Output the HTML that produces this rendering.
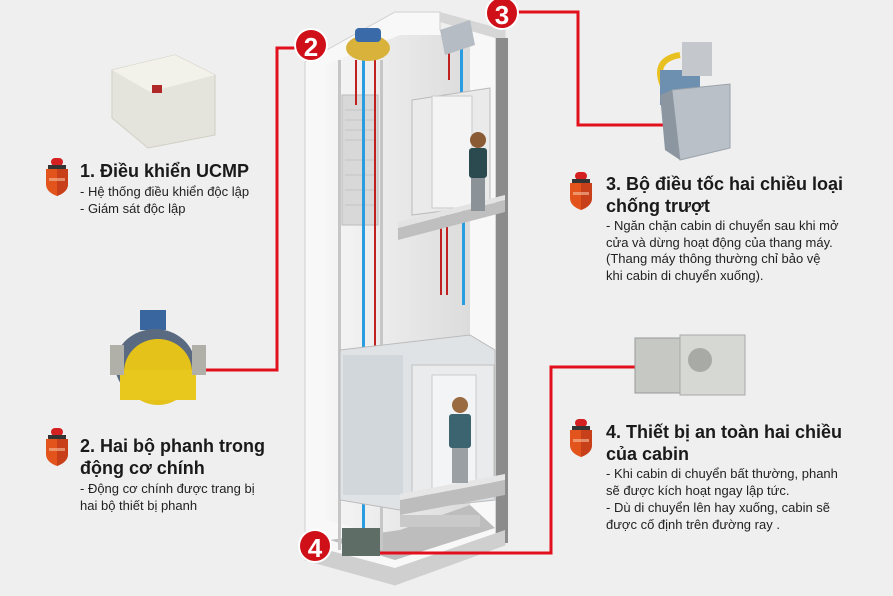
<!DOCTYPE html>
<html><head><meta charset="utf-8">
<style>
html,body{margin:0;padding:0;background:#efefef;}
#c{position:relative;width:893px;height:596px;overflow:hidden;background:#efefef;font-family:"Liberation Sans",Arial,sans-serif;color:#222;}
.t{position:absolute;white-space:nowrap;}
.h{font-size:18px;font-weight:bold;color:#1a1a1a;line-height:22px;}
.b{font-size:13px;color:#222;line-height:17px;}
</style></head><body><div id="c">
<svg width="893" height="596" style="position:absolute;left:0;top:0">
<defs>
<linearGradient id="g1" x1="0" x2="1"><stop offset="0" stop-color="#f6f6f6"/><stop offset="1" stop-color="#dcdcdc"/></linearGradient>
<g id="shield">
 <rect x="5" y="0" width="12" height="8" rx="4" fill="#d42020"/>
 <rect x="2" y="7" width="18" height="4" fill="#333"/>
 <path d="M0 11 H22 V26 Q22 34 11 38 Q0 34 0 26 Z" fill="#e2541c"/>
 <path d="M11 11 H22 V26 Q22 34 11 38 Z" fill="#c8401a"/>
 <rect x="3" y="20" width="16" height="3" fill="#f6c0a0" opacity=".6"/>
</g>
</defs>
<!-- shaft -->
<polygon points="305,62 395,12 440,12 440,30 505,30 505,545 395,585 305,560" fill="#f8f8f8" stroke="#d0d0d0"/>
<polygon points="325,65 400,35 470,35 470,505 400,540 325,520" fill="url(#g1)"/>
<polygon points="440,12 505,30 505,545 495,545 495,38 440,22" fill="#d6d6d6"/>
<rect x="496" y="38" width="12" height="505" fill="#8c8c8c"/>
<polygon points="305,560 395,585 505,545 505,530 395,568 320,548" fill="#cfcfcf"/>
<polygon points="330,540 395,560 495,528 470,505 400,530" fill="#bdbdbd"/>
<!-- rails -->
<rect x="338" y="60" width="3" height="490" fill="#c6c6c6"/>
<rect x="380" y="60" width="3" height="490" fill="#c6c6c6"/>
<rect x="342" y="95" width="36" height="130" fill="#d8d8d8" stroke="#bbb"/>
<g stroke="#c4c4c4" stroke-width="1">
<line x1="345" y1="110" x2="375" y2="110"/><line x1="345" y1="120" x2="375" y2="120"/><line x1="345" y1="130" x2="375" y2="130"/><line x1="345" y1="140" x2="375" y2="140"/><line x1="345" y1="160" x2="375" y2="160"/><line x1="345" y1="175" x2="375" y2="175"/><line x1="345" y1="190" x2="375" y2="190"/><line x1="345" y1="205" x2="375" y2="205"/>
</g>
<!-- ropes -->
<rect x="362" y="55" width="3" height="490" fill="#2a9de0"/>
<rect x="460" y="40" width="3" height="160" fill="#2a9de0"/>
<rect x="462" y="210" width="3" height="95" fill="#2a9de0"/>
<rect x="355" y="60" width="2" height="45" fill="#c02020"/>
<rect x="374" y="60" width="2" height="320" fill="#c02020"/>
<rect x="448" y="40" width="2" height="40" fill="#c02020"/>
<rect x="440" y="215" width="2" height="80" fill="#c02020"/>
<rect x="446" y="215" width="2" height="80" fill="#c02020"/>
<!-- upper floor door/platform -->
<polygon points="412,100 490,88 490,205 412,215" fill="#eaeaea" stroke="#bbb"/>
<rect x="432" y="96" width="40" height="112" fill="#f4f4f4" stroke="#c9c9c9"/>
<polygon points="398,228 505,200 505,212 398,240" fill="#bfbfbf"/>
<polygon points="398,228 505,200 505,195 398,222" fill="#e3e3e3"/>
<!-- man 1 -->
<circle cx="478" cy="140" r="8" fill="#8a5a34"/>
<rect x="469" y="148" width="18" height="30" rx="3" fill="#2a4a50"/>
<rect x="471" y="178" width="14" height="33" fill="#8c9398"/>
<!-- cabin -->
<polygon points="340,350 470,335 495,350 495,500 400,510 340,500" fill="#dfe3e6" stroke="#bbb"/>
<rect x="343" y="355" width="60" height="140" fill="#d2d7dc"/>
<rect x="412" y="365" width="82" height="130" fill="#e9ebed" stroke="#c0c0c0"/>
<rect x="432" y="375" width="44" height="120" fill="#f3f4f5" stroke="#ccc"/>
<polygon points="400,500 505,480 505,495 400,515" fill="#bdbdbd"/>
<polygon points="400,500 505,480 505,474 400,494" fill="#e6e6e6"/>
<rect x="400" y="515" width="80" height="12" fill="#c9c9c9"/>
<!-- man 2 -->
<circle cx="460" cy="405" r="8" fill="#9a6a40"/>
<rect x="449" y="414" width="22" height="34" rx="3" fill="#3c6470"/>
<rect x="452" y="448" width="16" height="35" fill="#9aa0a4"/>
<!-- motor top -->
<ellipse cx="368" cy="48" rx="22" ry="13" fill="#d8b23a"/>
<rect x="355" y="28" width="26" height="14" rx="4" fill="#3a6aa8"/>
<!-- governor top -->
<polygon points="440,30 470,20 475,45 445,55" fill="#b5bcc4"/>
<!-- safety device bottom -->
<rect x="342" y="528" width="38" height="28" fill="#5e6e66"/>
<!-- red connectors -->
<g fill="none" stroke="#e2101c" stroke-width="3">
<polyline points="300,48 277,48 277,370 190,370"/>
<polyline points="505,12 578,12 578,125 676,125"/>
<polyline points="380,553 551,553 551,367 642,367"/>
</g>
<!-- badges -->
<g font-family="Liberation Sans,Arial,sans-serif" font-weight="bold" fill="#fff" text-anchor="middle">
<circle cx="311" cy="45" r="16" fill="#d01018" stroke="#fff" stroke-width="2"/><text x="311" y="56" font-size="26">2</text>
<circle cx="502" cy="13" r="16" fill="#d01018" stroke="#fff" stroke-width="2"/><text x="502" y="24" font-size="26">3</text>
<circle cx="315" cy="546" r="16" fill="#d01018" stroke="#fff" stroke-width="2"/><text x="315" y="557" font-size="26">4</text>
</g>
<!-- controller -->
<polygon points="112,70 175,55 215,75 215,135 148,148 112,118" fill="#e4e4dc" stroke="#cfcfc4"/>
<polygon points="112,70 175,55 215,75 150,92" fill="#f2f2ea"/>
<rect x="152" y="85" width="10" height="8" fill="#b02828"/>
<!-- motor -->
<rect x="140" y="310" width="26" height="20" fill="#3a66a0"/>
<ellipse cx="155" cy="365" rx="40" ry="36" fill="#5a6a80"/>
<ellipse cx="158" cy="372" rx="34" ry="33" fill="#e5c21a"/>
<rect x="120" y="370" width="76" height="30" fill="#e9c81e"/>
<rect x="110" y="345" width="14" height="30" fill="#b0b0a8"/>
<rect x="192" y="345" width="14" height="30" fill="#b0b0a8"/>
<!-- governor -->
<path d="M665 90 Q650 60 680 55" stroke="#e8c020" stroke-width="6" fill="none"/>
<rect x="660" y="70" width="40" height="35" fill="#6d8fb0"/>
<rect x="682" y="42" width="30" height="34" fill="#c4c8cc"/>
<polygon points="672,90 730,84 730,148 680,160" fill="#b9c0c8" stroke="#9aa2aa"/>
<polygon points="660,95 672,90 680,160 665,150" fill="#8c96a0"/>
<!-- safety gear -->
<rect x="635" y="338" width="45" height="55" fill="#c6c8c4" stroke="#999"/>
<rect x="680" y="335" width="65" height="60" fill="#d6d8d4" stroke="#aaa"/>
<circle cx="700" cy="360" r="12" fill="#a8aaa6"/>
<!-- shields -->
<use href="#shield" x="46" y="158"/>
<use href="#shield" x="46" y="428"/>
<use href="#shield" x="570" y="172"/>
<use href="#shield" x="570" y="419"/>
</svg>
<div class="t h" style="left:80px;top:160px">1. Điều khiển UCMP</div>
<div class="t b" style="left:80px;top:183px">- Hệ thống điều khiển độc lập<br>- Giám sát độc lập</div>
<div class="t h" style="left:80px;top:435px">2. Hai bộ phanh trong<br>động cơ chính</div>
<div class="t b" style="left:80px;top:480px">- Động cơ chính được trang bị<br>hai bộ thiết bị phanh</div>
<div class="t h" style="left:606px;top:173px">3. Bộ điều tốc hai chiều loại<br>chống trượt</div>
<div class="t b" style="left:606px;top:218px;line-height:16.7px">- Ngăn chặn cabin di chuyển sau khi mở<br>cửa và dừng hoạt động của thang máy.<br>(Thang máy thông thường chỉ bảo vệ<br>khi cabin di chuyển xuống).</div>
<div class="t h" style="left:606px;top:421px">4. Thiết bị an toàn hai chiều<br>của cabin</div>
<div class="t b" style="left:606px;top:465px">- Khi cabin di chuyển bất thường, phanh<br>sẽ được kích hoạt ngay lập tức.<br>- Dù di chuyển lên hay xuống, cabin sẽ<br>được cố định trên đường ray .</div>
</div></body></html>
